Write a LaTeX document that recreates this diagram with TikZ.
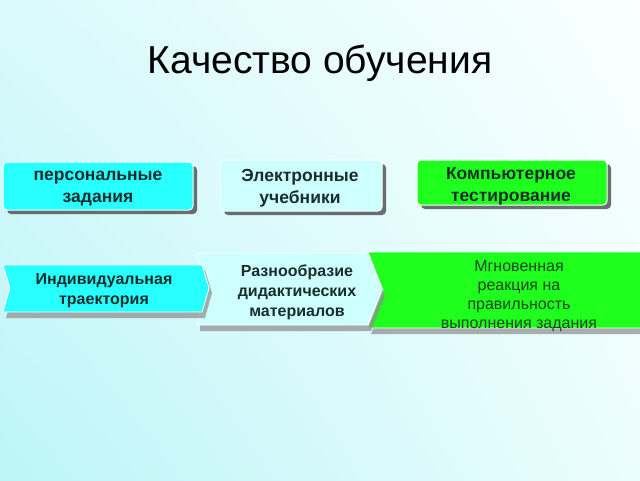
\documentclass[tikz,border=0pt]{standalone}
\usepackage{fontspec}
\setmainfont{Liberation Sans}
\usetikzlibrary{shadings}
\definecolor{bgTL}{RGB}{218,250,252}
\definecolor{bgTR}{RGB}{250,255,255}
\definecolor{bgBL}{RGB}{188,245,247}
\definecolor{bgBR}{RGB}{236,253,253}
\definecolor{cyanbox}{RGB}{40,255,255}
\definecolor{lightbox}{RGB}{205,255,255}
\definecolor{greenbox}{RGB}{30,255,30}
\definecolor{txtdark}{RGB}{25,45,45}
\definecolor{txtgreen}{RGB}{30,70,30}
\tikzset{
  rbox/.style={rounded corners=4pt, draw=white, line width=1pt},
  boxshadow/.style={rounded corners=4pt, fill=black!75, opacity=0.75},
  chev/.style={draw=white, line width=0.8pt},
  chevshadow/.style={fill=black!45, opacity=0.7},
  boxtxt/.style={font=\bfseries\fontsize{17.5}{22}\selectfont, text=txtdark, align=center},
  boldtxt/.style={font=\bfseries\fontsize{16}{20}\selectfont, text=txtdark, align=center},
  thintxt/.style={font=\fontsize{16}{19}\selectfont, text=txtgreen, align=center}
}
\begin{document}
\begin{tikzpicture}[x=1pt,y=-1pt]
\useasboundingbox (0,0) rectangle (640,480);
\shade[upper left=bgTL, upper right=bgTR, lower left=bgBL, lower right=bgBR] (0,0) rectangle (640,480);

% title
\node[font=\fontsize{39}{46}\selectfont, text=black] (title) at (320,63) {Качество обучения};

% top boxes
\fill[boxshadow] (7,166) rectangle (197,214);
\draw[rbox, fill=cyanbox] (3,162) rectangle (193,210);
\node[boxtxt] (b1) at (98,189) {персональные\\задания};

\fill[boxshadow] (224,164) rectangle (386,215);
\draw[rbox, fill=lightbox] (220,160) rectangle (382,211);
\node[boxtxt] (b2) at (300,188) {Электронные\\учебники};

\fill[boxshadow] (421,164) rectangle (611,209);
\draw[rbox, fill=greenbox] (417,160) rectangle (607,205);
\node[boxtxt] (b3) at (511,186) {Компьютерное\\тестирование};

% chevrons (back to front)
\fill[chevshadow] (371,258) -- (648,258) -- (648,334) -- (371,334) -- (386,296) -- cycle;
\draw[chev, fill=greenbox] (368,252) -- (645,252) -- (645,328) -- (368,328) -- (383,290) -- cycle;
\node[thintxt] (c3) at (519,296) {Мгновенная\\реакция на\\правильность\\выполнения задания};

\fill[chevshadow] (200,259) -- (371,259) -- (385,296) -- (371,331) -- (200,331) -- cycle;
\draw[chev, fill=lightbox] (197,253) -- (368,253) -- (382,290) -- (368,325) -- (197,325) -- (204,290) -- cycle;
\node[boldtxt] (c2) at (297,292) {Разнообразие\\дидактических\\материалов};

\fill[chevshadow] (6,270) -- (205,270) -- (212,293) -- (205,318) -- (6,318) -- (13,293) -- cycle;
\draw[chev, fill=cyanbox] (3,265) -- (202,265) -- (209,288) -- (202,312) -- (3,312) -- (10,288) -- cycle;
\node[boldtxt] (c1) at (104,291) {Индивидуальная\\траектория};
\end{tikzpicture}
\end{document}
